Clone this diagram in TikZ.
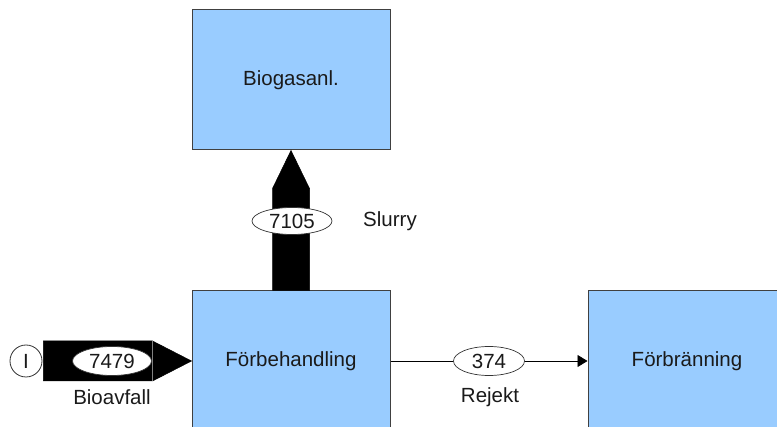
\documentclass[tikz,border=0pt]{standalone}
\usepackage{fontspec}
\setmainfont{Liberation Sans}
\usetikzlibrary{shapes.geometric,arrows.meta,calc}
\definecolor{boxblue}{HTML}{99CCFF}
\definecolor{edgegray}{HTML}{404040}
\definecolor{inkdark}{HTML}{1A1A1A}
\tikzset{
  process/.style={draw=edgegray, line width=1pt, fill=boxblue, minimum width=198pt,
    minimum height=140pt, inner sep=0pt, text=inkdark, font=\fontsize{20.5}{24}\selectfont},
  flowval/.style={ellipse, draw=black!80, line width=0.7pt, fill=white, inner sep=0pt,
    text=inkdark, font=\fontsize{20.5}{24}\selectfont},
  flowlabel/.style={font=\fontsize{20.5}{24}\selectfont, text=inkdark, inner sep=0pt},
  fatarrow/.style={fill=black, draw=black, line width=0.5pt, line join=miter},
  thinflow/.style={draw=black, line width=0.8pt, -{Triangle[length=10pt,width=12pt]}},
  source/.style={circle, draw=black!80, line width=0.8pt, fill=white, minimum size=32pt,
    inner sep=0pt, text=inkdark, font=\fontsize{20.5}{24}\selectfont}
}
\begin{document}
\begin{tikzpicture}[x=1pt, y=-1pt]
  \useasboundingbox (0,0) rectangle (777,427);
  \clip (0,0) rectangle (777,427);

  % process boxes
  \node[process] (bio) at (291,80) {Biogasanl.};
  \node[process] (fb)  at (291,361) {Förbehandling};
  \node[process] (fr)  at (687,361) {Förbränning};

  % input source
  \node[source] (src) at (26,361) {I};

  % Bioavfall: wide arrow from the source into pretreatment
  \draw[fatarrow] ($(src.east)+(1,-20)$) -- ($(fb.west)+(-39,-20)$) -- (fb.west)
    -- ($(fb.west)+(-39,20)$) -- ($(src.east)+(1,20)$) -- cycle;
  \draw[gray, line width=0.5pt] ($(fb.west)+(-39,-20)$) -- ($(fb.west)+(-39,20)$);
  \node[flowval, minimum width=79pt, minimum height=29pt] (v1) at (112,361) {7479};
  \node[flowlabel] (l1) at (112,397) {Bioavfall};

  % Slurry: wide arrow up to the biogas plant
  \draw[fatarrow] ($(fb.north)+(-18.5,0)$) -- ($(bio.south)+(-18.5,38)$) -- (bio.south)
    -- ($(bio.south)+(18.5,38)$) -- ($(fb.north)+(18.5,0)$) -- cycle;
  \node[flowval, minimum width=80pt, minimum height=27pt] (v2) at (292,221) {7105};
  \node[flowlabel] (l2) at (390,221) {Slurry};

  % Rejekt: thin arrow to incineration
  \draw[thinflow] (fb.east) -- (fr.west);
  \node[flowval, minimum width=71pt, minimum height=29pt] (v3) at (489,361) {374};
  \node[flowlabel] (l3) at (490,397) {Rejekt};
\end{tikzpicture}
\end{document}
